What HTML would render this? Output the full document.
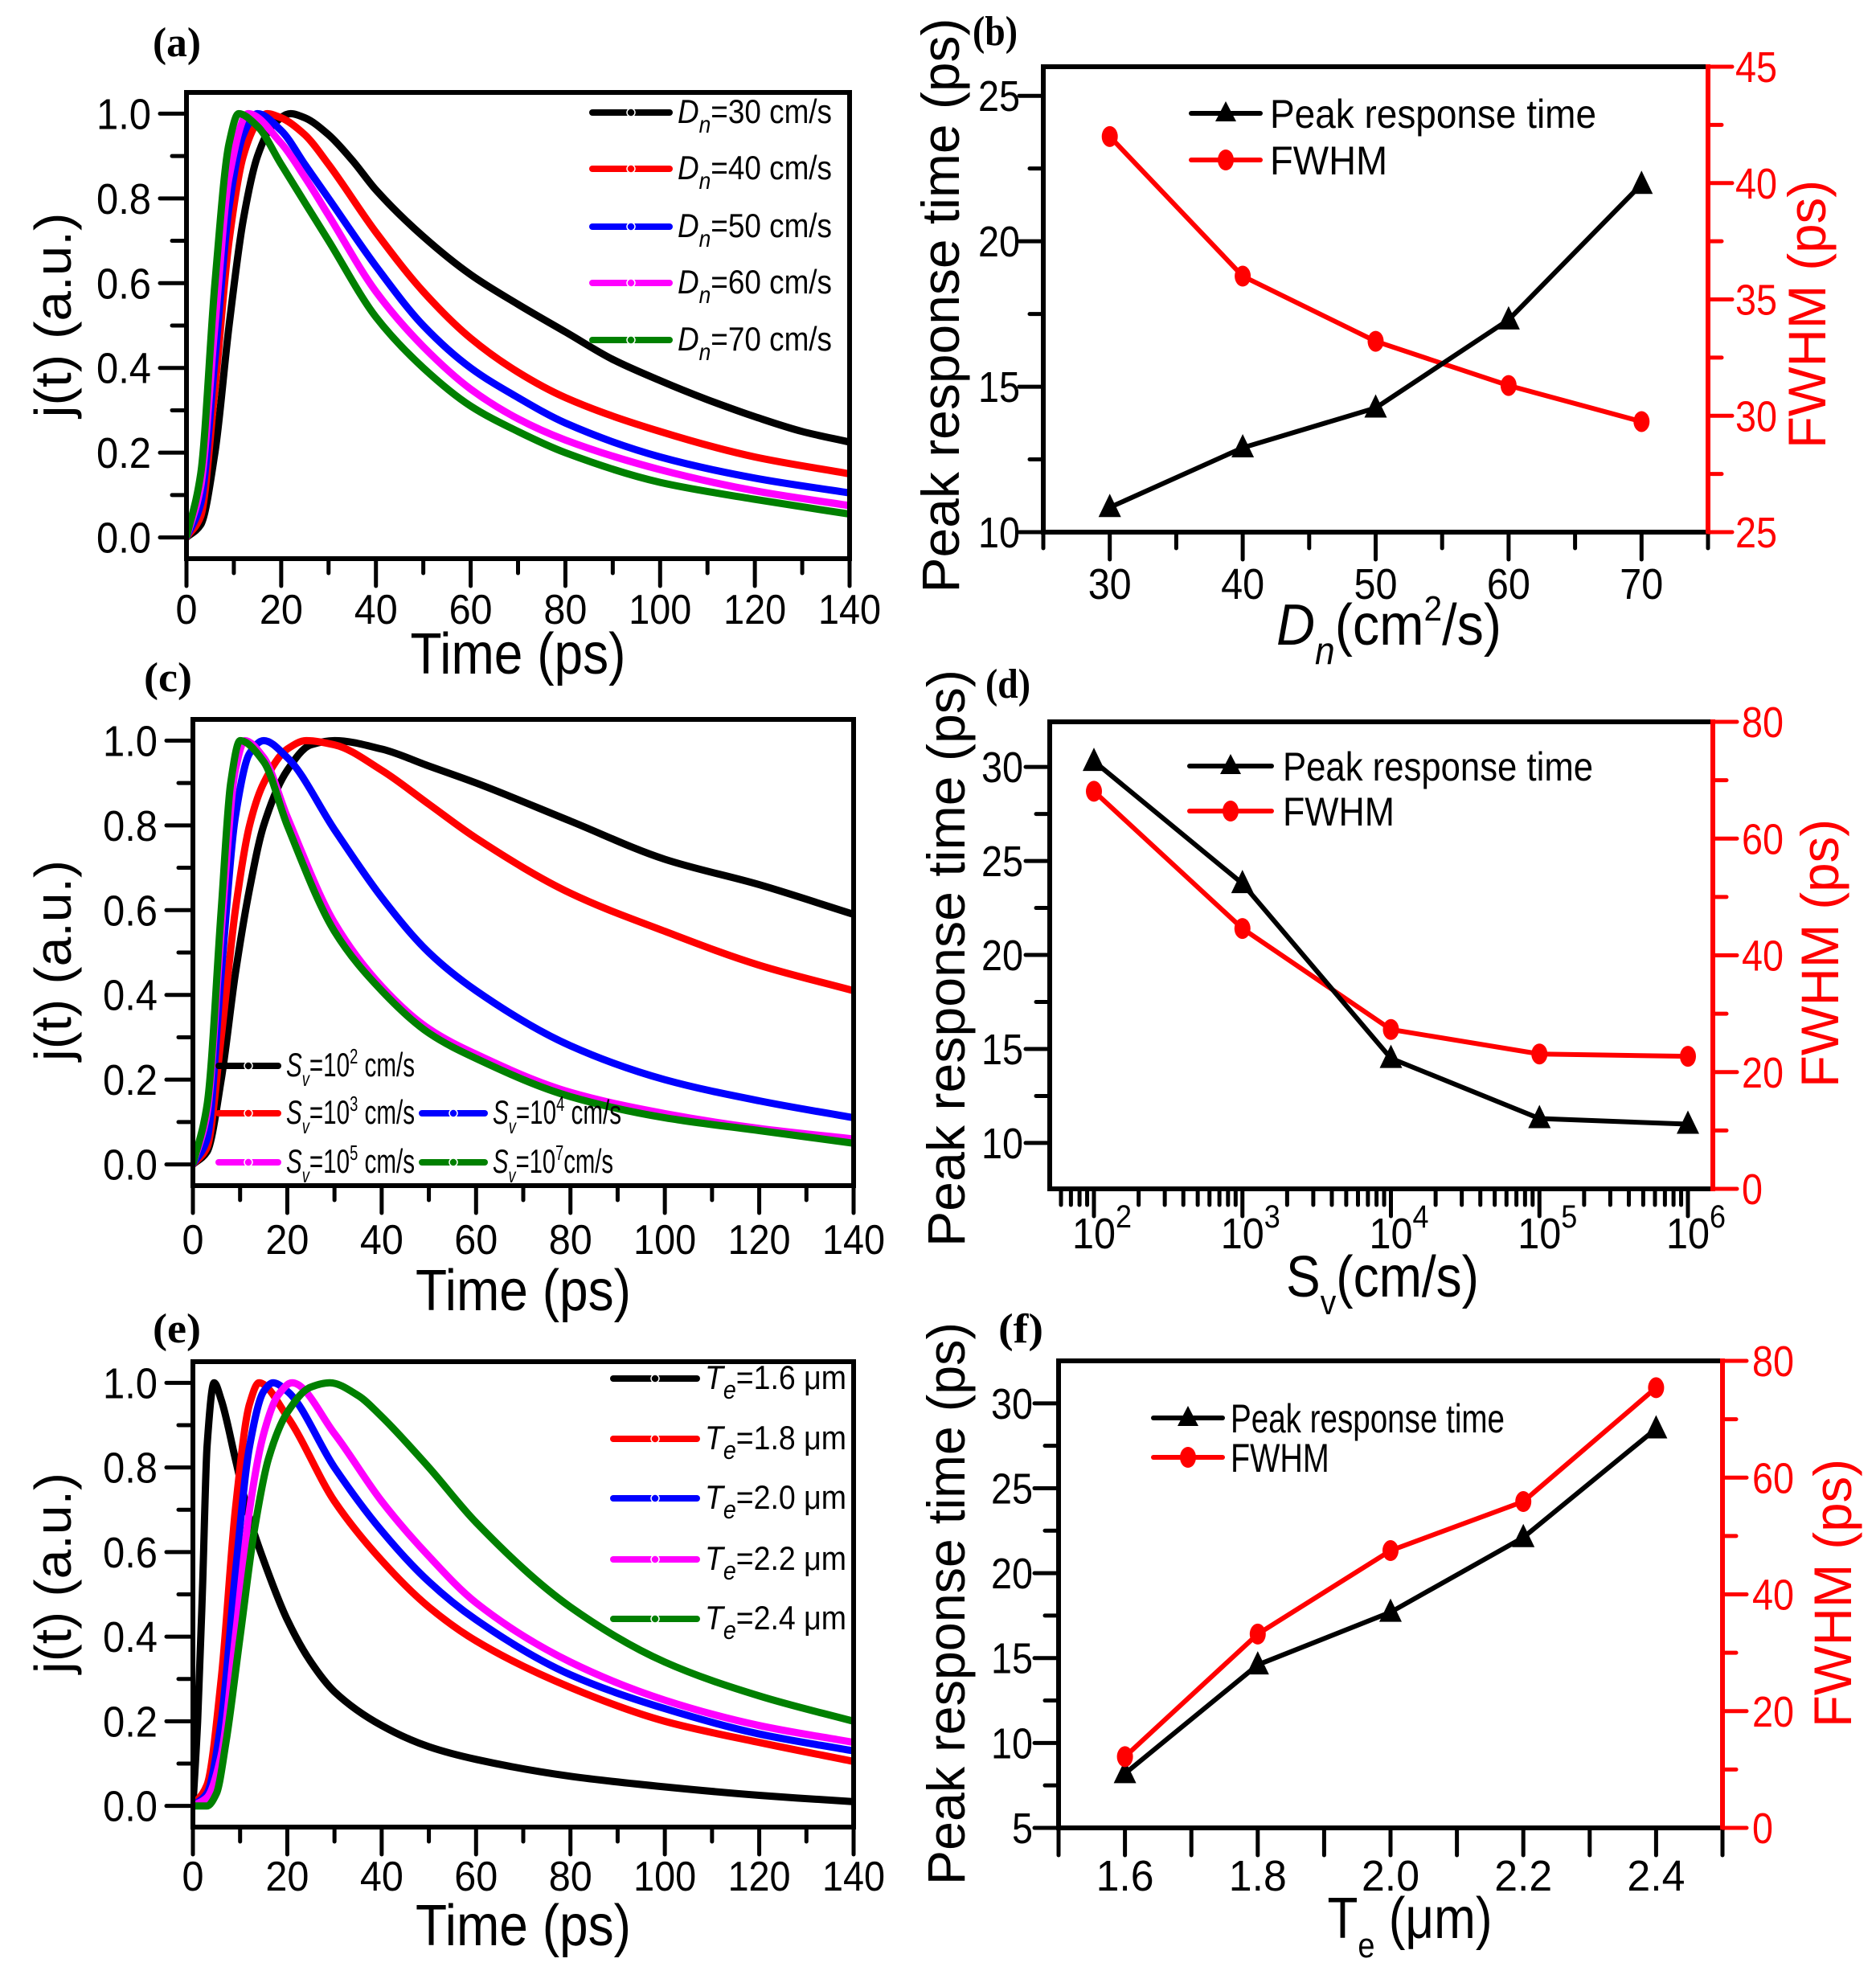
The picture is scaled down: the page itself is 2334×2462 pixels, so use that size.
<!DOCTYPE html>
<html><head><meta charset="utf-8"><style>
html,body{margin:0;padding:0;background:#fff;}
svg{display:block;}
</style></head><body>
<svg id="fig" xmlns="http://www.w3.org/2000/svg" width="2334" height="2462" viewBox="0 0 2334 2462" font-family="Liberation Sans, Arial, sans-serif"></svg>
<script>
// ---------- Panel (a) data ----------
const a30_t=[0,3,6,9,12,15,18,22,25,30,35,40,50,60,70,80,90,100,110,120,130,140];
const a30_y=[0,0.03,0.2,0.5,0.75,0.9,0.97,1.0,0.99,0.95,0.89,0.82,0.71,0.62,0.55,0.485,0.42,0.37,0.325,0.285,0.25,0.225];
const a40_t=[0,3,6,9,12,15,17,20,25,30,40,50,60,70,80,100,120,140];
const a40_y=[0,0.05,0.35,0.7,0.9,0.98,1,0.99,0.95,0.88,0.72,0.58,0.47,0.39,0.33,0.25,0.19,0.15];
const a50_t=[0,3,6,9,12,15,20,25,30,40,50,60,70,80,100,120,140];
const a50_y=[0,0.08,0.42,0.78,0.95,1,0.96,0.88,0.8,0.64,0.5,0.4,0.33,0.27,0.19,0.14,0.105];
const a60_t=[0,3,6,9,13,20,25,30,40,50,60,70,80,100,120,140];
const a60_y=[0,0.12,0.5,0.85,1,0.93,0.85,0.76,0.58,0.45,0.35,0.28,0.23,0.16,0.11,0.075];
const a70_t=[0,3,6,9,11,15,20,25,30,40,50,60,70,80,100,120,140];
const a70_y=[0,0.15,0.6,0.93,1,0.97,0.88,0.79,0.7,0.52,0.4,0.31,0.25,0.2,0.13,0.09,0.055];
// ---------- Panel (c) data ----------
const c2_t=[0,3,6,9,12,15,20,25,30,40,50,60,80,100,120,140];
const c2_y=[0,0.03,0.2,0.45,0.65,0.8,0.93,0.99,1.0,0.98,0.94,0.9,0.81,0.72,0.66,0.59];
const c3_t=[0,3,6,9,12,15,20,24,30,40,50,60,80,100,120,140];
const c3_y=[0,0.04,0.3,0.6,0.8,0.9,0.98,1,0.99,0.93,0.85,0.77,0.64,0.55,0.47,0.41];
const c4_t=[0,3,6,9,12,15,20,30,40,50,60,80,100,120,140];
const c4_y=[0,0.06,0.45,0.82,0.97,1,0.96,0.79,0.63,0.5,0.41,0.28,0.2,0.15,0.11];
const c5_t=[0,3,6,9,11,15,20,30,40,50,60,80,100,120,140];
const c5_y=[0,0.12,0.55,0.93,1,0.96,0.82,0.57,0.42,0.32,0.26,0.17,0.12,0.085,0.06];
const c7_t=[0,3,6,8,10,15,20,30,40,50,60,80,100,120,140];
const c7_y=[0,0.14,0.6,0.9,1,0.95,0.8,0.55,0.41,0.31,0.25,0.16,0.11,0.08,0.05];
// ---------- Panel (e) data ----------
const e16_t=[0,1,2,3,4.5,6,9,12,15,20,25,30,40,50,60,80,100,120,140];
const e16_y=[0,0.2,0.5,0.85,1,0.96,0.82,0.68,0.58,0.44,0.34,0.27,0.19,0.14,0.11,0.07,0.045,0.025,0.01];
const e18_t=[0,3,6,9,12,14,20,30,40,50,60,80,100,120,140];
const e18_y=[0,0.05,0.3,0.7,0.95,1,0.92,0.72,0.58,0.47,0.39,0.28,0.2,0.15,0.105];
const e20_t=[0,3,6,9,12,15,17,20,30,40,50,60,80,100,120,140];
const e20_y=[0,0.03,0.2,0.55,0.85,0.98,1,0.98,0.8,0.65,0.53,0.44,0.31,0.23,0.17,0.13];
const e22_t=[0,3,6,9,12,15,18,21,30,40,50,60,80,100,120,140];
const e22_y=[0,0.02,0.12,0.4,0.7,0.88,0.97,1,0.88,0.72,0.59,0.48,0.34,0.25,0.19,0.15];
const e24_t=[0,3,5,7,10,13,16,20,25,29,35,40,50,60,80,100,120,140];
const e24_y=[0,0,0.03,0.15,0.4,0.65,0.82,0.93,0.99,1,0.97,0.92,0.8,0.67,0.47,0.34,0.26,0.2];
// ---------- Panel (b) data ----------
const b_x=[30,40,50,60,70];
const b_peak=[10.85,12.9,14.27,17.3,21.96];
const b_fwhm=[42.0,36.0,33.2,31.3,29.75];
// ---------- Panel (d) data ----------
const d_x=[1e2,1e3,1e4,1e5,1e6];
const d_peak=[30.3,23.8,14.5,11.3,11.0];
const d_fwhm=[68.1,44.6,27.3,23.1,22.7];
// ---------- Panel (f) data ----------
const f_x=[1.6,1.8,2.0,2.2,2.4];
const f_peak=[8.2,14.6,17.7,22.1,28.5];
const f_fwhm=[12.2,33.2,47.5,55.9,75.4];
// tick labels
const timeTicks=["0","20","40","60","80","100","120","140"];
const jTicks=["0.0","0.2","0.4","0.6","0.8","1.0"];

const NS="http://www.w3.org/2000/svg";
const svg=document.getElementById('fig');
function el(tag,attrs,name,parent){
  const e=document.createElementNS(NS,tag);
  for(const k in attrs)e.setAttribute(k,attrs[k]);
  
  
  (parent||svg).appendChild(e);return e;
}
function txt(x,y,html,size,anchor,len,name,opts){
  opts=opts||{};
  const a={x:x,y:y,'font-size':size,'text-anchor':anchor||'start',fill:opts.fill||'#000'};
  if(len){a.textLength=len;a.lengthAdjust='spacingAndGlyphs';}
  if(opts.rot){a.transform='rotate(-90 '+x+' '+y+')';}
  if(opts.weight)a['font-weight']=opts.weight;
  if(opts.family)a['style']='font-family:'+opts.family;
  const t=el('text',a,name,opts.parent);
  t.innerHTML=html;return t;
}
function lin(d0,d1,p0,p1){return v=>p0+(v-d0)*(p1-p0)/(d1-d0);}
function monotone(pts){
  const n=pts.length,dx=[],sl=[],m=[];
  for(let i=0;i<n-1;i++){dx[i]=pts[i+1][0]-pts[i][0];sl[i]=(pts[i+1][1]-pts[i][1])/dx[i];}
  m[0]=sl[0];m[n-1]=sl[n-2];
  for(let i=1;i<n-1;i++){
    if(sl[i-1]*sl[i]<=0)m[i]=0;
    else{const w1=2*dx[i]+dx[i-1],w2=dx[i]+2*dx[i-1];m[i]=(w1+w2)/(w1/sl[i-1]+w2/sl[i]);}
  }
  let d='M'+pts[0][0].toFixed(1)+','+pts[0][1].toFixed(1);
  for(let i=0;i<n-1;i++){
    const h=dx[i]/3;
    d+='C'+(pts[i][0]+h).toFixed(1)+','+(pts[i][1]+h*m[i]).toFixed(1)+' '+(pts[i+1][0]-h).toFixed(1)+','+(pts[i+1][1]-h*m[i+1]).toFixed(1)+' '+pts[i+1][0].toFixed(1)+','+pts[i+1][1].toFixed(1);
  }
  return d;
}
function seg(x1,y1,x2,y2,col,w,name){return el('line',{x1:x1,y1:y1,x2:x2,y2:y2,stroke:col,'stroke-width':w,'stroke-linecap':'round'},name);}
const SERIF='"Liberation Serif",serif';

// ---------- time-response panels ----------
function timePanel(P){
  const X=lin(0,140,P.L,P.R), Y=lin(-0.05,1.05,P.B,P.T);
  const g=el('g',{},P.id+'-panel');
  const cid=P.id+'-clip';
  const cp=el('clipPath',{id:cid},P.id+'-clip',g);
  el('rect',{x:P.L,y:P.T,width:P.R-P.L,height:P.B-P.T},P.id+'-clip-rect',cp);
  P.series.forEach(s=>{
    const pts=s.t.map((t,i)=>[X(t),Y(s.y[i])]);
    el('path',{d:monotone(pts),fill:'none',stroke:s.col,'stroke-width':9,'clip-path':'url(#'+cid+')','stroke-linejoin':'round'},P.id+'-curve-'+s.key,g);
  });
  el('rect',{x:P.L,y:P.T,width:P.R-P.L,height:P.B-P.T,fill:'none',stroke:'#000','stroke-width':6},P.id+'-frame',g);
  for(let v=0;v<=140;v+=10){
    const maj=v%20===0;
    seg(X(v),P.B,X(v),P.B+(maj?34:18),'#000',5,P.id+'-x-tick');
    if(maj)txt(X(v),P.xlab,timeTicks[v/20],52,'middle',v>=100?78:(v>0?54:27),P.id+'-x-tick-label');
  }
  for(let k=0;k<=10;k++){
    const v=k/10,maj=k%2===0;
    seg(P.L,Y(v),P.L-(maj?33:18),Y(v),'#000',5,P.id+'-y-tick');
    if(maj)txt(P.L-44,Y(v)+19,jTicks[k/2],54,'end',68,P.id+'-y-tick-label');
  }
  txt((P.L+P.R)/2,P.xt,'Time (ps)',72,'middle',268,P.id+'-x-axis-title');
  txt(88,P.yc,'j(t) (a.u.)',64,'middle',P.ylen,P.id+'-y-axis-title',{rot:true});
  txt(P.lx,P.ly,P.lab,52,'start',60,P.id+'-panel-label',{weight:'bold',family:SERIF});
  P.legend.forEach(l=>{
    seg(l.x1,l.y,l.x2,l.y,l.col,8,P.id+'-legend-line');
    el('circle',{cx:(l.x1+l.x2)/2,cy:l.y,r:5,fill:l.col,stroke:'#fff','stroke-width':1.5},P.id+'-legend-marker');
    txt(l.x2+10,l.y+13,l.html,42,'start',l.len,P.id+'-legend-entry');
  });
}
const Dn=(n)=>'<tspan font-style="italic">D</tspan><tspan font-style="italic" font-size="30" dy="12">n</tspan><tspan dy="-12">='+n+' cm/s</tspan>';
const Sv=(e,sp)=>'<tspan font-style="italic">S</tspan><tspan font-style="italic" font-size="26" dy="12">v</tspan><tspan dy="-12">=10</tspan><tspan font-size="26" dy="-16">'+e+'</tspan><tspan dy="16">'+(sp?' ':'')+'cm/s</tspan>';
const Te=(n)=>'<tspan font-style="italic">T</tspan><tspan font-style="italic" font-size="32" dy="12">e</tspan><tspan dy="-12">='+n+' μm</tspan>';
timePanel({id:'a',L:232,R:1057,T:115,B:695,xlab:776,xt:838,yc:392,ylen:255,lab:'(a)',lx:190,ly:70,
 series:[{key:'dn30',t:a30_t,y:a30_y,col:'#000'},{key:'dn40',t:a40_t,y:a40_y,col:'#f00'},{key:'dn50',t:a50_t,y:a50_y,col:'#00f'},{key:'dn60',t:a60_t,y:a60_y,col:'#f0f'},{key:'dn70',t:a70_t,y:a70_y,col:'#008000'}],
 legend:[[30,'#000',140],[40,'#f00',210],[50,'#00f',282],[60,'#f0f',352],[70,'#008000',423]].map(r=>({x1:737,x2:833,y:r[2],col:r[1],html:Dn(r[0]),len:192}))});
timePanel({id:'c',L:240,R:1062,T:895,B:1475,xlab:1560,xt:1630,yc:1195,ylen:250,lab:'(c)',lx:179,ly:860,
 series:[{key:'sv2',t:c2_t,y:c2_y,col:'#000'},{key:'sv3',t:c3_t,y:c3_y,col:'#f00'},{key:'sv4',t:c4_t,y:c4_y,col:'#00f'},{key:'sv5',t:c5_t,y:c5_y,col:'#f0f'},{key:'sv7',t:c7_t,y:c7_y,col:'#008000'}],
 legend:[{x1:272,x2:346,y:1326,col:'#000',html:Sv(2,1),len:160},{x1:272,x2:346,y:1385,col:'#f00',html:Sv(3,1),len:160},{x1:525,x2:603,y:1385,col:'#00f',html:Sv(4,1),len:160},{x1:272,x2:346,y:1446,col:'#f0f',html:Sv(5,1),len:160},{x1:525,x2:603,y:1446,col:'#008000',html:Sv(7,0),len:150}]});
timePanel({id:'e',L:240,R:1062,T:1694,B:2273,xlab:2352,xt:2420,yc:1957,ylen:250,lab:'(e)',lx:190,ly:1670,
 series:[{key:'te16',t:e16_t,y:e16_y,col:'#000'},{key:'te18',t:e18_t,y:e18_y,col:'#f00'},{key:'te20',t:e20_t,y:e20_y,col:'#00f'},{key:'te22',t:e22_t,y:e22_y,col:'#f0f'},{key:'te24',t:e24_t,y:e24_y,col:'#008000'}],
 legend:[['1.6','#000',1715],['1.8','#f00',1790],['2.0','#00f',1864],['2.2','#f0f',1940],['2.4','#008000',2014]].map(r=>({x1:763,x2:867,y:r[2],col:r[1],html:Te(r[0]),len:176}))});

// ---------- dual-axis panels ----------
function dualPanel(P){
  const X=P.log?(v=>P.xs(Math.log10(v))):P.xs;
  const YL=lin(P.ly0,P.ly1,P.B,P.T), YR=lin(P.ry0,P.ry1,P.B,P.T);
  el('line',{x1:P.L,y1:P.T,x2:P.R,y2:P.T,stroke:'#000','stroke-width':6},P.id+'-frame-top');
  el('line',{x1:P.L,y1:P.B,x2:P.R,y2:P.B,stroke:'#000','stroke-width':6},P.id+'-x-axis');
  el('line',{x1:P.L,y1:P.T-3,x2:P.L,y2:P.B+3,stroke:'#000','stroke-width':6},P.id+'-left-axis');
  el('line',{x1:P.R,y1:P.T-3,x2:P.R,y2:P.B+3,stroke:'#f00','stroke-width':6},P.id+'-right-axis');
  P.xticks.forEach(t=>{
    seg(t.px,P.B,t.px,P.B+(t.maj?34:20),'#000',5,P.id+'-x-tick');
    if(t.lab)txt(t.px+(t.dx||0),P.xlab,t.lab,54,'middle',t.len,P.id+'-x-tick-label');
  });
  P.lticks.forEach(t=>{
    seg(P.L,YL(t.v),P.L-(t.maj?30:17),YL(t.v),'#000',5,P.id+'-left-y-tick');
    if(t.maj)txt(P.ltx,YL(t.v)+19,String(t.v),54,'end',t.v>=10?52:26,P.id+'-left-y-tick-label');
  });
  P.rticks.forEach(t=>{
    seg(P.R,YR(t.v),P.R+(t.maj?30:17),YR(t.v),'#f00',5,P.id+'-right-y-tick');
    if(t.maj)txt(P.rtx,YR(t.v)+19,String(t.v),54,'start',t.v>=10?52:26,P.id+'-right-y-tick-label',{fill:'#f00'});
  });
  const pk=P.x.map((v,i)=>[X(v),YL(P.peak[i])]);
  const fw=P.x.map((v,i)=>[X(v),YR(P.fwhm[i])]);
  el('polyline',{points:fw.map(p=>p.join(',')).join(' '),fill:'none',stroke:'#f00','stroke-width':6},P.id+'-fwhm-line');
  el('polyline',{points:pk.map(p=>p.join(',')).join(' '),fill:'none',stroke:'#000','stroke-width':6},P.id+'-peak-line');
  pk.forEach(p=>el('polygon',{points:(p[0])+','+(p[1]-17)+' '+(p[0]-14)+','+(p[1]+12)+' '+(p[0]+14)+','+(p[1]+12),fill:'#000'},P.id+'-peak-marker'));
  fw.forEach(p=>el('ellipse',{cx:p[0],cy:p[1],rx:10,ry:13,fill:'#f00'},P.id+'-fwhm-marker'));
  seg(P.lg.x1,P.lg.y1,P.lg.x2,P.lg.y1,'#000',6,P.id+'-legend-line-peak');
  const mx=(P.lg.x1+P.lg.x2)/2;
  el('polygon',{points:mx+','+(P.lg.y1-15)+' '+(mx-13)+','+(P.lg.y1+10)+' '+(mx+13)+','+(P.lg.y1+10),fill:'#000'},P.id+'-legend-marker-peak');
  txt(P.lg.tx,P.lg.y1+18,'Peak response time',50,'start',P.lg.len,P.id+'-legend-entry-peak');
  seg(P.lg.x1,P.lg.y2,P.lg.x2,P.lg.y2,'#f00',6,P.id+'-legend-line-fwhm');
  el('ellipse',{cx:mx,cy:P.lg.y2,rx:10,ry:13,fill:'#f00'},P.id+'-legend-marker-fwhm');
  txt(P.lg.tx,P.lg.y2+18,'FWHM',50,'start',P.lg.len*0.36,P.id+'-legend-entry-fwhm');
  txt(P.ytx,P.yc,'Peak response time (ps)',66,'middle',P.ylen,P.id+'-left-y-axis-title',{rot:true});
  txt(P.rtitx,P.rc,'FWHM (ps)',66,'middle',334,P.id+'-right-y-axis-title',{rot:true,fill:'#f00'});
  txt(P.xtc,P.xt,P.xtitle,72,'middle',P.xtlen,P.id+'-x-axis-title');
  txt(P.plx,P.ply,P.plab,52,'start',56,P.id+'-panel-label',{weight:'bold',family:SERIF});
}
function linTicks(a,b,step,majEvery){const r=[];let k=0;for(let v=a;v<=b+1e-9;v+=step,k++){r.push({v:+v.toFixed(3),maj:k%majEvery===0});}return r;}
// (b)
(function(){
  const xs=lin(25,75,1298,2125);
  const xt=[];for(let v=25;v<=75;v+=5){xt.push({px:xs(v),maj:v%10===0,lab:v%10===0?String(v):null,len:54});}
  dualPanel({id:'b',L:1298,R:2125,T:83,B:662,xs:xs,log:false,x:b_x,peak:b_peak,fwhm:b_fwhm,
    ly0:10,ly1:26,ry0:25,ry1:45,xticks:xt,
    lticks:linTicks(10,25,2.5,2),rticks:linTicks(25,45,2.5,2),ltx:1269,rtx:2159,xlab:745,
    lg:{x1:1482,x2:1568,tx:1580,y1:141,y2:199,len:406},
    ytx:1193,yc:380,ylen:715,rtitx:2271,rc:391,
    xtitle:'<tspan font-style="italic">D</tspan><tspan font-style="italic" font-size="48" dy="24">n</tspan><tspan dy="-24">(cm</tspan><tspan font-size="44" dy="-30">2</tspan><tspan dy="30">/s)</tspan>',
    xtc:1728,xt:802,xtlen:280,plab:'(b)',plx:1210,ply:56});
})();
// (d)
(function(){
  const xs=lin(2,6,1361,2100);
  const xt=[];
  for(let dcd=1;dcd<=6;dcd++){for(let m=1;m<=9;m++){const lv=dcd+Math.log10(m);if(lv<1.7||lv>6.17)continue;
    xt.push({px:xs(lv),maj:m===1,lab:m===1?('10<tspan font-size="40" dy="-26">'+dcd+'</tspan>'):null,len:74,dx:10});}}
  dualPanel({id:'d',L:1306,R:2131,T:898,B:1479,xs:xs,log:true,x:d_x,peak:d_peak,fwhm:d_fwhm,
    ly0:7.56,ly1:32.4,ry0:0,ry1:80,xticks:xt,
    lticks:linTicks(10,30,2.5,2),rticks:linTicks(0,80,10,2),ltx:1273,rtx:2167,xlab:1553,
    lg:{x1:1480,x2:1582,tx:1596,y1:953,y2:1009,len:386},
    ytx:1200,yc:1192,ylen:718,rtitx:2287,rc:1186,
    xtitle:'S<tspan font-size="44" dy="22">v</tspan><tspan dy="-22">(cm/s)</tspan>',
    xtc:1720,xt:1613,xtlen:240,plab:'(d)',plx:1226,ply:868});
})();
// (f)
(function(){
  const xs=lin(1.5,2.5,1317,2143);
  const xt=[];for(let k=0;k<=10;k++){const v=1.5+k*0.1;const maj=(k%2===1);xt.push({px:xs(v),maj:true,lab:maj?v.toFixed(1):null,len:72});}
  dualPanel({id:'f',L:1317,R:2143,T:1693,B:2274,xs:xs,log:false,x:f_x,peak:f_peak,fwhm:f_fwhm,
    ly0:5,ly1:32.5,ry0:0,ry1:80,xticks:xt,
    lticks:linTicks(5,30,2.5,2),rticks:linTicks(0,80,10,2),ltx:1285,rtx:2180,xlab:2352,
    lg:{x1:1435,x2:1521,tx:1531,y1:1764,y2:1813,len:341},
    ytx:1200,yc:1995,ylen:700,rtitx:2303,rc:1982,
    xtitle:'T<tspan font-size="44" dy="24">e</tspan><tspan dy="-24"> (μm)</tspan>',
    xtc:1754,xt:2411,xtlen:205,plab:'(f)',plx:1242,ply:1670});
})();
</script>
</body></html>
